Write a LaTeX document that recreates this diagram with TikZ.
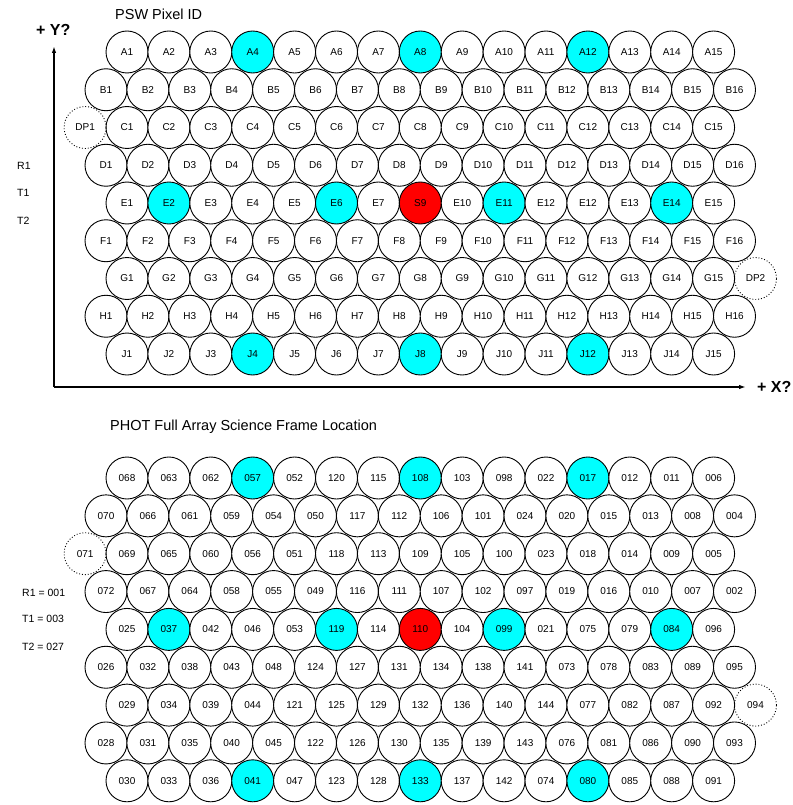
\documentclass[tikz,border=0pt]{standalone}
\usepackage{fontspec}
\setmainfont{Liberation Sans}
\usetikzlibrary{arrows.meta}
\definecolor{cy}{RGB}{0,255,255}
\definecolor{rd}{RGB}{255,0,0}
\tikzset{
  pix/.style={circle, draw=black, line width=0.9pt, minimum size=42pt, inner sep=0pt, font=\fontsize{10}{10}\selectfont},
  dpix/.style={pix, dotted},
  ttl/.style={anchor=west, inner sep=0pt, font=\fontsize{14.5}{15}\selectfont},
  side/.style={anchor=west, inner sep=0pt, font=\fontsize{10.5}{10.5}\selectfont},
  axlab/.style={anchor=west, inner sep=0pt, font=\bfseries\fontsize{16}{16}\selectfont},
  axis/.style={line width=1.6pt, -{Latex[length=7pt,width=4.5pt]}}
}
\newcommand\pixrow[4]{%
  \foreach \lab/\c [count=\k from 0] in {#4} {%
    \node[pix, fill=\c] (#1\k) at ({#2+41.9*\k},#3) {\lab};
  }%
}
\begin{document}
\begin{tikzpicture}[x=1pt,y=-1pt]
\useasboundingbox (0,0) rectangle (792,805);
% ---------- top grid ----------
\node[ttl] (t1) at (115,14) {PSW Pixel ID};
\pixrow{ta}{127}{52}{A1/white,A2/white,A3/white,A4/cy,A5/white,A6/white,A7/white,A8/cy,A9/white,A10/white,A11/white,A12/cy,A13/white,A14/white,A15/white}
\pixrow{tb}{106}{89.75}{B1/white,B2/white,B3/white,B4/white,B5/white,B6/white,B7/white,B8/white,B9/white,B10/white,B11/white,B12/white,B13/white,B14/white,B15/white,B16/white}
\pixrow{tc}{127}{127.5}{C1/white,C2/white,C3/white,C4/white,C5/white,C6/white,C7/white,C8/white,C9/white,C10/white,C11/white,C12/white,C13/white,C14/white,C15/white}
\pixrow{td}{106}{165.25}{D1/white,D2/white,D3/white,D4/white,D5/white,D6/white,D7/white,D8/white,D9/white,D10/white,D11/white,D12/white,D13/white,D14/white,D15/white,D16/white}
\pixrow{te}{127}{203}{E1/white,E2/cy,E3/white,E4/white,E5/white,E6/cy,E7/white,S9/rd,E10/white,E11/cy,E12/white,E12/white,E13/white,E14/cy,E15/white}
\pixrow{tf}{106}{240.75}{F1/white,F2/white,F3/white,F4/white,F5/white,F6/white,F7/white,F8/white,F9/white,F10/white,F11/white,F12/white,F13/white,F14/white,F15/white,F16/white}
\pixrow{tg}{127}{278.5}{G1/white,G2/white,G3/white,G4/white,G5/white,G6/white,G7/white,G8/white,G9/white,G10/white,G11/white,G12/white,G13/white,G14/white,G15/white}
\pixrow{th}{106}{316.25}{H1/white,H2/white,H3/white,H4/white,H5/white,H6/white,H7/white,H8/white,H9/white,H10/white,H11/white,H12/white,H13/white,H14/white,H15/white,H16/white}
\pixrow{tj}{127}{354}{J1/white,J2/white,J3/white,J4/cy,J5/white,J6/white,J7/white,J8/cy,J9/white,J10/white,J11/white,J12/cy,J13/white,J14/white,J15/white}
\node[dpix] (dp1) at (85.1,127.5) {DP1};
\node[dpix] (dp2) at (755.5,278.5) {DP2};
\node[side] (r1) at (17,166) {R1};
\node[side] (tt1) at (17,193) {T1};
\node[side] (tt2) at (17,221) {T2};
% axes
\coordinate (org) at (54,387);
\coordinate (ytip) at (54,46);
\coordinate (xtip) at (746,387);
\draw[axis] (org) -- (ytip);
\draw[axis] (org) -- (xtip);
\node[axlab] (ylab) at (36,30) {+ Y?};
\node[axlab] (xlab) at (757,387) {+ X?};
% ---------- bottom grid ----------
\node[ttl] (t2) at (110,427) {PHOT Full Array Science Frame Location};
\pixrow{ba}{127}{478}{068/white,063/white,062/white,057/cy,052/white,120/white,115/white,108/cy,103/white,098/white,022/white,017/cy,012/white,011/white,006/white}
\pixrow{bb}{106}{515.85}{070/white,066/white,061/white,059/white,054/white,050/white,117/white,112/white,106/white,101/white,024/white,020/white,015/white,013/white,008/white,004/white}
\pixrow{bc}{127}{553.7}{069/white,065/white,060/white,056/white,051/white,118/white,113/white,109/white,105/white,100/white,023/white,018/white,014/white,009/white,005/white}
\pixrow{bd}{106}{591.55}{072/white,067/white,064/white,058/white,055/white,049/white,116/white,111/white,107/white,102/white,097/white,019/white,016/white,010/white,007/white,002/white}
\pixrow{be}{127}{629.4}{025/white,037/cy,042/white,046/white,053/white,119/cy,114/white,110/rd,104/white,099/cy,021/white,075/white,079/white,084/cy,096/white}
\pixrow{bf}{106}{667.25}{026/white,032/white,038/white,043/white,048/white,124/white,127/white,131/white,134/white,138/white,141/white,073/white,078/white,083/white,089/white,095/white}
\pixrow{bg}{127}{705.1}{029/white,034/white,039/white,044/white,121/white,125/white,129/white,132/white,136/white,140/white,144/white,077/white,082/white,087/white,092/white}
\pixrow{bh}{106}{742.95}{028/white,031/white,035/white,040/white,045/white,122/white,126/white,130/white,135/white,139/white,143/white,076/white,081/white,086/white,090/white,093/white}
\pixrow{bj}{127}{780.8}{030/white,033/white,036/white,041/cy,047/white,123/white,128/white,133/cy,137/white,142/white,074/white,080/cy,085/white,088/white,091/white}
\node[dpix] (d071) at (85.1,553.7) {071};
\node[dpix] (d094) at (755.5,705.1) {094};
\node[side] (br1) at (22,593) {R1 = 001};
\node[side] (bt1) at (22,619) {T1 = 003};
\node[side] (bt2) at (22,647) {T2 = 027};
\end{tikzpicture}
\end{document}
